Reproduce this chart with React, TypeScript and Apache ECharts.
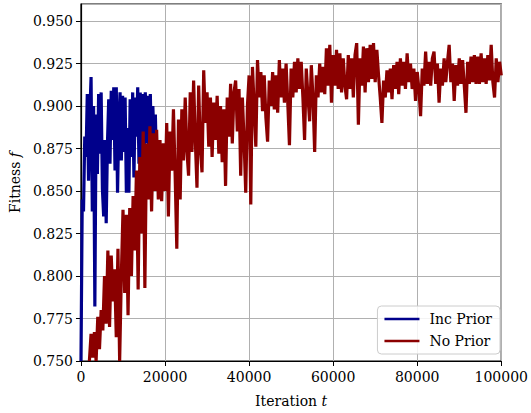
import React, { useEffect, useRef } from "react";
import * as echarts from "echarts";

// Iteration axis ticks
const xTicks = [0, 20000, 40000, 60000, 80000, 100000];
const yTicks = [0.75, 0.775, 0.8, 0.825, 0.85, 0.875, 0.9, 0.925, 0.95];

// "Inc Prior": sampled every 300 iterations starting at 0
const incStart = 0;
const incStep = 300;
const incPrior = [
  0.750, 0.845, 0.838, 0.882, 0.870, 0.907, 0.856, 0.895, 0.917, 0.838,
  0.900, 0.782, 0.895, 0.860, 0.907, 0.872, 0.908, 0.851, 0.835, 0.880,
  0.831, 0.878, 0.904, 0.866, 0.909, 0.880, 0.911, 0.862, 0.911, 0.849,
  0.890, 0.908, 0.868, 0.906, 0.873, 0.905, 0.849, 0.887, 0.849, 0.904,
  0.870, 0.908, 0.858, 0.905, 0.882, 0.911, 0.866, 0.908, 0.855, 0.907,
  0.870, 0.908, 0.878, 0.906, 0.862, 0.907, 0.870, 0.900, 0.878, 0.895,
  0.860,
];

// "No Prior": sampled every 400 iterations starting at 2000
const noStart = 2000;
const noStep = 400;
const noPrior = [
  0.750, 0.766, 0.752, 0.767, 0.750, 0.776, 0.757, 0.780, 0.768, 0.800,
  0.772, 0.815, 0.770, 0.812, 0.785, 0.804, 0.764, 0.816, 0.750, 0.800,
  0.839, 0.790, 0.836, 0.777, 0.840, 0.800, 0.847, 0.815, 0.862, 0.792,
  0.870, 0.825, 0.885, 0.793, 0.878, 0.845, 0.888, 0.838, 0.884, 0.850,
  0.886, 0.845, 0.880, 0.844, 0.878, 0.850, 0.890, 0.835, 0.885, 0.862,
  0.898, 0.860, 0.816, 0.892, 0.845, 0.898, 0.868, 0.905, 0.874, 0.859,
  0.908, 0.873, 0.915, 0.880, 0.852, 0.912, 0.875, 0.861, 0.921, 0.890,
  0.908, 0.876, 0.905, 0.870, 0.902, 0.880, 0.906, 0.872, 0.900, 0.867,
  0.898, 0.853, 0.905, 0.882, 0.913, 0.878, 0.908, 0.915, 0.885, 0.910,
  0.859, 0.905, 0.880, 0.849, 0.900, 0.918, 0.842, 0.923, 0.900, 0.876,
  0.927, 0.905, 0.920, 0.897, 0.918, 0.893, 0.879, 0.915, 0.900, 0.920,
  0.898, 0.918, 0.896, 0.927, 0.905, 0.922, 0.902, 0.925, 0.902, 0.877,
  0.922, 0.905, 0.926, 0.908, 0.928, 0.910, 0.926, 0.905, 0.880, 0.922,
  0.906, 0.891, 0.924, 0.905, 0.873, 0.918, 0.905, 0.925, 0.908, 0.923,
  0.907, 0.934, 0.912, 0.936, 0.902, 0.930, 0.912, 0.933, 0.910, 0.931,
  0.908, 0.928, 0.912, 0.904, 0.930, 0.910, 0.928, 0.905, 0.930, 0.937,
  0.889, 0.928, 0.912, 0.935, 0.908, 0.934, 0.914, 0.936, 0.916, 0.937,
  0.914, 0.933, 0.918, 0.905, 0.890, 0.915, 0.905, 0.921, 0.908, 0.922,
  0.904, 0.924, 0.910, 0.926, 0.907, 0.928, 0.912, 0.926, 0.910, 0.931,
  0.914, 0.925, 0.910, 0.922, 0.903, 0.920, 0.910, 0.894, 0.922, 0.912,
  0.932, 0.913, 0.926, 0.912, 0.928, 0.932, 0.913, 0.925, 0.902, 0.922,
  0.912, 0.928, 0.914, 0.926, 0.936, 0.914, 0.925, 0.903, 0.924, 0.912,
  0.928, 0.913, 0.927, 0.912, 0.896, 0.926, 0.913, 0.929, 0.914, 0.930,
  0.913, 0.929, 0.913, 0.931, 0.914, 0.928, 0.913, 0.930, 0.915, 0.936,
  0.914, 0.905, 0.928, 0.914, 0.926, 0.918,
];

const seriesNames = ["Inc Prior", "No Prior"];
const seriesColors = ["#00008b", "#8b0000"];

const FONT = "DejaVu Serif";
const FS = 14;

export default function App() {
  const ref = useRef<HTMLDivElement>(null);
  useEffect(() => {
    if (!ref.current) return;
    const chart = echarts.init(ref.current, undefined, { renderer: "svg" });
    const incData = incPrior.map((v, i) => [incStart + i * incStep, v]);
    const noData = noPrior.map((v, i) => [noStart + i * noStep, v]);
    chart.setOption({
      animation: false,
      backgroundColor: "#ffffff",
      textStyle: { fontFamily: FONT },
      grid: {
        left: 80,
        right: 25,
        top: 4,
        bottom: 50,
        show: true,
        borderColor: "#000",
        borderWidth: 1.2,
        backgroundColor: "transparent",
      },
      legend: {
        data: seriesNames.map((n) => ({ name: n, icon: "rect" })),
        orient: "vertical",
        right: 31,
        bottom: 59,
        itemWidth: 35,
        itemHeight: 2.5,
        itemGap: 8,
        padding: [6, 8, 6, 7],
        borderColor: "#cccccc",
        borderWidth: 1,
        borderRadius: 4,
        backgroundColor: "rgba(255,255,255,0.85)",
        textStyle: {
          fontFamily: FONT,
          fontSize: FS,
          color: "#000",
          padding: [0, 0, 0, 5],
        },
      },
      xAxis: {
        type: "value",
        min: xTicks[0],
        max: xTicks[xTicks.length - 1],
        interval: xTicks[1] - xTicks[0],
        name: "Iteration {it|t}",
        nameLocation: "middle",
        nameGap: 33,
        nameTextStyle: {
          fontFamily: FONT,
          fontSize: FS,
          color: "#000",
          rich: { it: { fontFamily: FONT, fontSize: FS, fontStyle: "italic", color: "#000" } },
        },
        axisLine: { show: true, lineStyle: { color: "#000", width: 1.2 } },
        axisTick: { show: true, length: 5, lineStyle: { color: "#000", width: 1 } },
        axisLabel: {
          fontFamily: FONT,
          fontSize: FS,
          color: "#000",
          margin: 9,
          formatter: (v: number) => String(v),
        },
        splitLine: { show: true, lineStyle: { color: "#b0b0b0", width: 1 } },
      },
      yAxis: {
        type: "value",
        min: yTicks[0],
        max: 0.96,
        interval: 0.025,
        name: "Fitness {it|f}",
        nameLocation: "middle",
        nameGap: 57,
        nameTextStyle: {
          fontFamily: FONT,
          fontSize: FS,
          color: "#000",
          rich: { it: { fontFamily: FONT, fontSize: FS, fontStyle: "italic", color: "#000" } },
        },
        axisLine: { show: true, lineStyle: { color: "#000", width: 1.2 } },
        axisTick: { show: true, length: 5, lineStyle: { color: "#000", width: 1 } },
        axisLabel: {
          fontFamily: FONT,
          fontSize: FS,
          color: "#000",
          margin: 8,
          showMaxLabel: false,
          formatter: (v: number) => (yTicks.some((t) => Math.abs(t - v) < 1e-6) ? v.toFixed(3) : ""),
        },
        splitLine: { show: true, lineStyle: { color: "#b0b0b0", width: 1 } },
      },
      series: [
        {
          name: seriesNames[0],
          type: "line",
          data: incData,
          showSymbol: false,
          symbol: "none",
          color: seriesColors[0],
          lineStyle: { color: seriesColors[0], width: 3.2 },
          z: 2,
        },
        {
          name: seriesNames[1],
          type: "line",
          data: noData,
          showSymbol: false,
          symbol: "none",
          color: seriesColors[1],
          lineStyle: { color: seriesColors[1], width: 3.2 },
          z: 3,
        },
      ],
    });
    return () => chart.dispose();
  }, []);
  return (
    <div
      ref={ref}
      style={{ position: "fixed", left: 0, top: 0, width: 531, height: 413, background: "#fff" }}
    />
  );
}
